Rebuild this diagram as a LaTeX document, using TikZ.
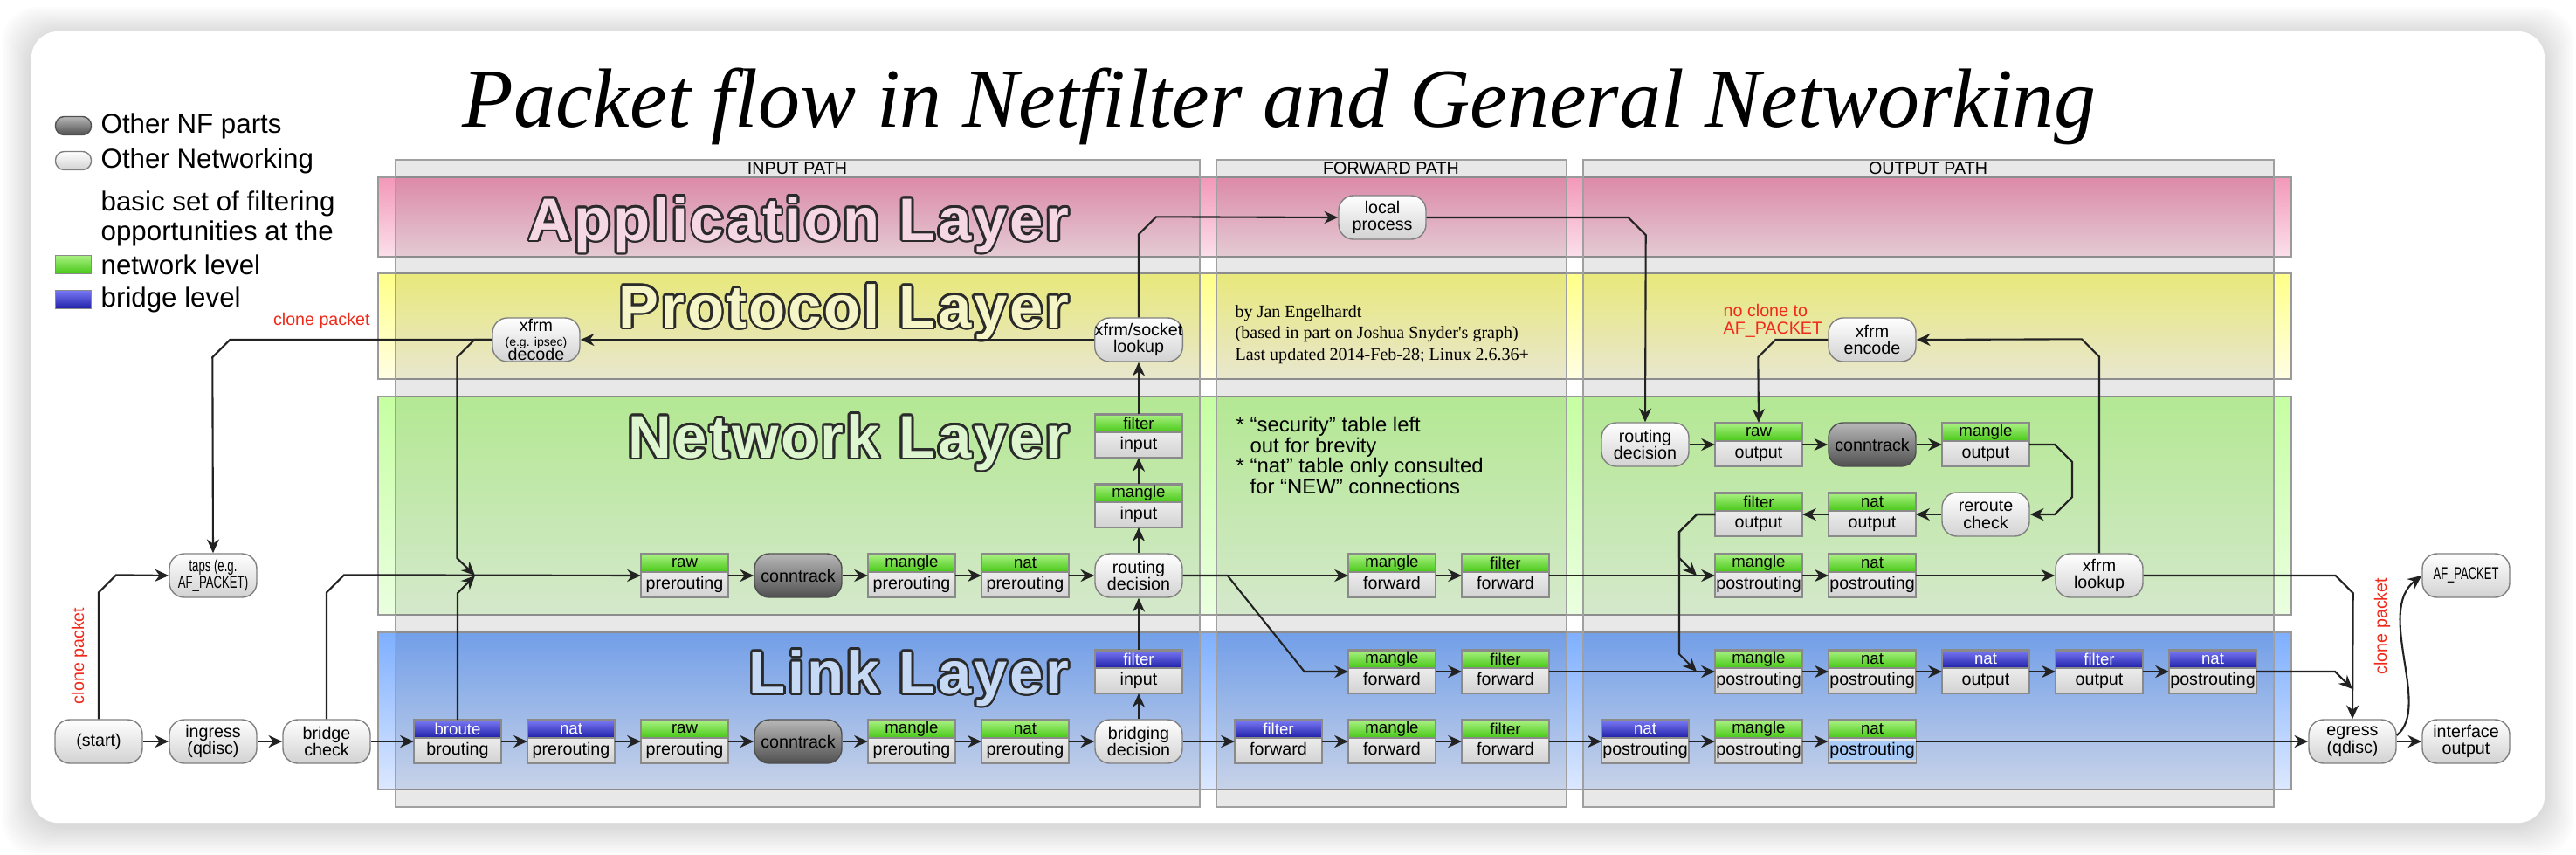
\documentclass[tikz,border=0pt]{standalone}
\usepackage{fontspec}
\setmainfont{Liberation Sans}
\newfontfamily\serifft{Liberation Serif}
\newfontfamily\layerfont[LetterSpace=4]{Liberation Sans}
\usepackage{tikz}
\usetikzlibrary{arrows.meta}

\definecolor{linec}{HTML}{222222}
\definecolor{pillline}{HTML}{808080}
\definecolor{pillbot}{HTML}{D2D2D2}
\definecolor{dptop}{HTML}{B8B8B8}
\definecolor{dpbot}{HTML}{505050}
\definecolor{dpline}{HTML}{505050}
\definecolor{tabline}{HTML}{8A8A8A}
\definecolor{hgtop}{HTML}{A8F080}
\definecolor{hgbot}{HTML}{48C818}
\definecolor{hbtop}{HTML}{7878F4}
\definecolor{hbbot}{HTML}{2020A8}
\definecolor{apptop}{HTML}{F398B8}
\definecolor{appbot}{HTML}{FBE0EA}
\definecolor{prottop}{HTML}{FFFF88}
\definecolor{protbot}{HTML}{FFFEE4}
\definecolor{nettop}{HTML}{C6FFA2}
\definecolor{netbot}{HTML}{EAFFE0}
\definecolor{linktop}{HTML}{7EAFFF}
\definecolor{linkbot}{HTML}{DCE8FF}
\definecolor{bandline}{HTML}{9A9A9A}
\definecolor{panelline}{HTML}{A0A0A0}
\definecolor{cred}{HTML}{F02A1A}
\definecolor{ltline}{HTML}{2A2A2A}
\definecolor{appfg}{HTML}{F6D8E5}
\definecolor{protfg}{HTML}{F5F5C8}
\definecolor{netfg}{HTML}{DDF6CF}
\definecolor{linkfg}{HTML}{C6DAF6}
\definecolor{selbg}{HTML}{A9CBF7}

\newcommand{\boxfont}{\fontsize{5.6}{5.6}\selectfont}
\newcommand{\hdrfont}{\fontsize{5.3}{5.3}\selectfont}
\newcommand{\legfont}{\fontsize{8.9}{9.7}\selectfont}
% outlined layer title: dark copies round a light one
\newcommand{\layertitle}[4]{%
  \foreach \a in {0,22.5,...,337.5}
    \node[ltitle, text=ltline, shift={(\a:0.75pt)}] at (#2) {#4};
  \node[ltitle, text=#3] (#1) at (#2) {#4};
}

\begin{document}
\begin{tikzpicture}[
  %--- shared node styles -----------------------------------------
  pill/.style={
    draw=pillline, rounded corners=0.17cm,
    top color=white, bottom color=pillbot,
    minimum width=1cm, minimum height=0.5cm,
    inner sep=0pt, align=center, font=\boxfont
  },
  dpill/.style={pill, draw=dpline, top color=dptop, bottom color=dpbot},
  tab/.style={
    draw=tabline, line width=0.5pt,
    top color=white, bottom color=pillbot,
    minimum width=1cm, inner xsep=0pt, inner ysep=0pt,
    text height=0.4cm, text depth=0.1cm, outer sep=0pt,
    font=\boxfont
  },
  ghd/.style={
    anchor=north, draw=tabline, line width=0.5pt,
    top color=hgtop, bottom color=hgbot,
    minimum width=1cm, minimum height=0.2cm,
    inner sep=0pt, font=\hdrfont
  },
  bhd/.style={ghd, top color=hbtop, bottom color=hbbot, text=white},
  gtab/.style={tab, label={[ghd]north:#1}},
  btab/.style={tab, label={[bhd]north:#1}},
  ltitle/.style={anchor=base east, inner sep=0pt,
    font=\layerfont\bfseries\fontsize{19.6}{19.6}\selectfont},
  legtxt/.style={anchor=west, align=left, inner sep=0pt, font=\legfont},
  pathlbl/.style={inner sep=0pt, font=\boxfont},
  redtxt/.style={text=cred, font=\boxfont},
  band/.style={draw=bandline, line width=0.5pt},
  panel/.style={fill=black, fill opacity=0.09, draw=panelline, line width=0.6pt},
  arr/.style={-{Stealth[length=4.5pt, width=4pt]}, line width=0.6pt, draw=linec},
]
\useasboundingbox (0,0) rectangle (29.5,-9.78);

%% --- card with soft shadow ---------------------------------------
\foreach \i in {1,...,12}
  \fill[black, opacity=0.012, rounded corners=0.4cm]
    ({0.36-0.028*\i},{-0.39+0.026*\i}) rectangle ({29.14+0.028*\i},{-9.46-0.028*\i});
\fill[white, rounded corners=0.3cm] (0.36,-0.36) rectangle (29.14,-9.42);

%% --- layer bands ---------------------------------------------------
\shadedraw[band, top color=apptop, bottom color=appbot] (4.33,-2.03) rectangle (26.24,-2.94);
\shadedraw[band, top color=prottop, bottom color=protbot] (4.33,-3.13) rectangle (26.24,-4.34);
\shadedraw[band, top color=nettop, bottom color=netbot] (4.33,-4.54) rectangle (26.24,-7.04);
\shadedraw[band, top color=linktop, bottom color=linkbot] (4.33,-7.24) rectangle (26.24,-9.04);

%% --- path panels ---------------------------------------------------
\filldraw[panel] (4.53,-1.83) rectangle (13.74,-9.24);
\filldraw[panel] (13.93,-1.83) rectangle (17.94,-9.24);
\filldraw[panel] (18.13,-1.83) rectangle (26.04,-9.24);
\node[pathlbl] (inlbl) at (9.13,-1.93) {INPUT PATH};
\node[pathlbl] (fwlbl) at (15.93,-1.93) {FORWARD PATH};
\node[pathlbl] (outlbl) at (22.08,-1.93) {OUTPUT PATH};

%% --- layer titles --------------------------------------------------
\layertitle{applt}{12.25,-2.75}{appfg}{Application Layer}
\layertitle{protlt}{12.25,-3.75}{protfg}{Protocol Layer}
\layertitle{netlt}{12.25,-5.24}{netfg}{Network Layer}
\layertitle{linklt}{12.25,-7.94}{linkfg}{Link Layer}

%% --- title, legend, notes -----------------------------------------
\node[anchor=base, inner sep=0pt, font=\serifft\itshape\fontsize{27.3}{30}\selectfont]
  (title) at (14.65,-1.45) {Packet flow in Netfilter and General Networking};

\node[dpill, minimum width=0.41cm, minimum height=0.21cm, rounded corners=0.1cm] (lgnf) at (0.84,-1.44) {};
\node[legtxt] (lgnftxt) at (1.15,-1.44) {Other NF parts};
\node[pill, minimum width=0.41cm, minimum height=0.21cm, rounded corners=0.1cm] (lgnet) at (0.84,-1.84) {};
\node[legtxt] (lgnettxt) at (1.15,-1.84) {Other Networking};
\node[legtxt] (lgbasic) at (1.15,-2.50) {basic set of filtering\\opportunities at the};
\node[draw=tabline, top color=hgtop, bottom color=hgbot, minimum width=0.41cm,
  minimum height=0.21cm, inner sep=0pt] (lggreen) at (0.84,-3.03) {};
\node[legtxt] (lggreentxt) at (1.15,-3.03) {network level};
\node[draw=tabline, top color=hbtop, bottom color=hbbot, minimum width=0.41cm,
  minimum height=0.21cm, inner sep=0pt] (lgblue) at (0.84,-3.43) {};
\node[legtxt] (lgbluetxt) at (1.15,-3.43) {bridge level};

\node[anchor=west, align=left, inner sep=0pt, font=\serifft\fontsize{5.7}{7}\selectfont]
  (credit) at (14.14,-3.83)
  {by Jan Engelhardt\\(based in part on Joshua Snyder's graph)\\Last updated 2014-Feb-28; Linux 2.6.36+};
\node[anchor=west, align=left, inner sep=0pt, font=\fontsize{6.8}{6.7}\selectfont]
  (notes) at (14.15,-5.215)
  {* “security” table left\\\phantom{* }out for brevity\\* “nat” table only consulted\\\phantom{* }for “NEW” connections};
\node[redtxt, anchor=west, align=left, inner sep=0pt] (noclone) at (19.73,-3.67) {no clone to\\AF\_PACKET};
\node[redtxt, rotate=90] (clone2) at (27.28,-7.17) {clone packet};

%% --- ROW link (y=-8.49) ---------------------------------------------
\node[pill] (start) at (1.13,-8.49) {(start)};
\node[pill] (ingr) at (2.44,-8.49) {ingress\\(qdisc)};
\node[pill] (bchk) at (3.74,-8.49) {bridge\\check};
\node[btab=broute] (brt) at (5.24,-8.49) {brouting};
\node[btab=nat] (lnatpre) at (6.54,-8.49) {prerouting};
\node[gtab=raw] (lrawpre) at (7.84,-8.49) {prerouting};
\node[dpill] (lct) at (9.14,-8.49) {conntrack};
\node[gtab=mangle] (lmglpre) at (10.44,-8.49) {prerouting};
\node[gtab=nat] (lnatpre2) at (11.74,-8.49) {prerouting};
\node[pill] (brdec) at (13.04,-8.49) {bridging\\decision};
\node[btab=filter] (lfltfwd) at (14.64,-8.49) {forward};
\node[gtab=mangle] (lmglfwd) at (15.94,-8.49) {forward};
\node[gtab=filter] (lfltfwd2) at (17.24,-8.49) {forward};
\node[btab=nat] (lnatpost) at (18.84,-8.49) {postrouting};
\node[gtab=mangle] (lmglpost) at (20.14,-8.49) {postrouting};
\node[gtab=nat] (lnatpost2) at (21.44,-8.49) {{\fboxsep=0.5pt\colorbox{selbg}{postrouting}}};
\node[pill] (egress) at (26.94,-8.49) {egress\\(qdisc)};
\node[pill] (ifout) at (28.24,-8.49) {interface\\output};

%% --- ROW link, upper (y=-7.69) -------------------------------------
\node[btab=filter] (brfltin) at (13.04,-7.69) {input};
\node[gtab=mangle] (bmglfwd) at (15.94,-7.69) {forward};
\node[gtab=filter] (bfltfwd) at (17.24,-7.69) {forward};
\node[gtab=mangle] (bmglpost) at (20.14,-7.69) {postrouting};
\node[gtab=nat] (bnatpost) at (21.44,-7.69) {postrouting};
\node[btab=nat] (bnatout) at (22.74,-7.69) {output};
\node[btab=filter] (bfltout) at (24.04,-7.69) {output};
\node[btab=nat] (bnatpost2) at (25.34,-7.69) {postrouting};

%% --- ROW network (y=-6.59) ------------------------------------------
\node[pill] (taps) at (2.44,-6.59)
  {\scalebox{0.67}[1]{taps (e.g.}\\\scalebox{0.67}[1]{AF\_PACKET)}};
\node[gtab=raw] (rawpre) at (7.84,-6.59) {prerouting};
\node[dpill] (ct) at (9.14,-6.59) {conntrack};
\node[gtab=mangle] (mglpre) at (10.44,-6.59) {prerouting};
\node[gtab=nat] (natpre) at (11.74,-6.59) {prerouting};
\node[pill] (rtdec) at (13.04,-6.59) {routing\\decision};
\node[gtab=mangle] (mglfwd) at (15.94,-6.59) {forward};
\node[gtab=filter] (fltfwd) at (17.24,-6.59) {forward};
\node[gtab=mangle] (mglpost) at (20.14,-6.59) {postrouting};
\node[gtab=nat] (natpost) at (21.44,-6.59) {postrouting};
\node[pill] (xfrmlk) at (24.04,-6.59) {xfrm\\lookup};
\node[pill] (afpkt) at (28.24,-6.59) {\scalebox{0.66}[1]{AF\_PACKET}};

%% --- input chain upwards, output rows --------------------------------
\node[gtab=mangle] (mglin) at (13.04,-5.79) {input};
\node[gtab=filter] (fltin) at (13.04,-4.99) {input};
\node[gtab=filter] (fltout) at (20.14,-5.89) {output};
\node[gtab=nat] (natout) at (21.44,-5.89) {output};
\node[pill] (reroute) at (22.74,-5.89) {reroute\\check};
\node[pill] (ortdec) at (18.84,-5.09) {routing\\decision};
\node[gtab=raw] (rawout) at (20.14,-5.09) {output};
\node[dpill] (oct) at (21.44,-5.09) {conntrack};
\node[gtab=mangle] (mglout) at (22.74,-5.09) {output};

%% --- protocol and application layer ---------------------------------
\node[pill] (dec) at (6.14,-3.89)
  {xfrm\\[-1pt]{\fontsize{4}{4}\selectfont (e.g. ipsec)}\\[-1pt]decode};
\node[pill] (xsl) at (13.04,-3.89) {xfrm/socket\\lookup};
\node[pill] (enc) at (21.44,-3.89) {xfrm\\encode};
\node[pill] (lproc) at (15.83,-2.49) {local\\process};

\coordinate (mrg) at (5.44,-6.59);
\coordinate (mpin) at (19.43,-6.59);
\coordinate (bmpin) at (19.43,-7.69);
\coordinate (egin) at (26.94,-7.89);

%% --- arrows -----------------------------------------------------------
% ingress side
\draw[arr] (start.east) -- (ingr.west);
\draw[arr] (ingr.east) -- (bchk.west);
\draw[arr] (bchk.east) -- (brt.west);
\draw[arr] (start.north) -- ++(0,1.45)
  node[midway, sloped, above, redtxt]{clone packet}
  -- ++(0.2,0.2) -- (taps.west);
\draw[arr] (bchk.north) -- ++(0,1.45) -- ++(0.2,0.2) -- (rawpre.west);
\draw[arr] (brt.north) -- ++(0,1.45) -- (mrg);
% decode -> merge and taps
\draw[arr] (dec.west) -- ++(-0.2,0) -- ++(-0.2,-0.2) -- ++(0,-2.3) -- (mrg);
\draw[arr] (dec.west) -- ++(-3.0,0)
  node[pos=0.65, above, redtxt]{clone packet}
  -- ++(-0.2,-0.2) -- (taps.north);
% link layer, bottom row
\draw[arr] (brt.east) -- (lnatpre.west);
\draw[arr] (lnatpre.east) -- (lrawpre.west);
\draw[arr] (lrawpre.east) -- (lct.west);
\draw[arr] (lct.east) -- (lmglpre.west);
\draw[arr] (lmglpre.east) -- (lnatpre2.west);
\draw[arr] (lnatpre2.east) -- (brdec.west);
\draw[arr] (brdec.east) -- (lfltfwd.west);
\draw[arr] (lfltfwd.east) -- (lmglfwd.west);
\draw[arr] (lmglfwd.east) -- (lfltfwd2.west);
\draw[arr] (lfltfwd2.east) -- (lnatpost.west);
\draw[arr] (lnatpost.east) -- (lmglpost.west);
\draw[arr] (lmglpost.east) -- (lnatpost2.west);
\draw[arr] (lnatpost2.east) -- (egress.west);
\draw[arr] (egress.east) -- (ifout.west);
\draw[arr] ([yshift=0.07cm]egress.east) .. controls (27.85,-8.1) and (27.2,-7.0) .. (afpkt.west);
% network layer, prerouting
\draw[arr] (rawpre.east) -- (ct.west);
\draw[arr] (ct.east) -- (mglpre.west);
\draw[arr] (mglpre.east) -- (natpre.west);
\draw[arr] (natpre.east) -- (rtdec.west);
% input path upwards
\draw[arr] (brdec.north) -- (brfltin.south);
\draw[arr] (brfltin.north) -- (rtdec.south);
\draw[arr] (rtdec.north) -- (mglin.south);
\draw[arr] (mglin.north) -- (fltin.south);
\draw[arr] (fltin.north) -- (xsl.south);
\draw[arr] (xsl.west) -- (dec.east);
\draw[arr] (xsl.north) -- ++(0,0.95) -- ++(0.2,0.2) -- (lproc.west);
\draw[arr] (lproc.east) -- ++(2.31,0) -- ++(0.2,-0.2) -- (ortdec.north);
% forward path
\draw[arr] (rtdec.east) -- (mglfwd.west);
\draw[arr] (rtdec.east) -- ++(0.51,0) -- ++(0.88,-1.1) -- (bmglfwd.west);
\draw[arr] (mglfwd.east) -- (fltfwd.west);
\draw[arr] (fltfwd.east) -- (mglpost.west);
\draw[arr] (bmglfwd.east) -- (bfltfwd.west);
\draw[arr] (bfltfwd.east) -- (bmglpost.west);
% output path
\draw[arr] (ortdec.east) -- (rawout.west);
\draw[arr] (rawout.east) -- (oct.west);
\draw[arr] (oct.east) -- (mglout.west);
\draw[arr] (mglout.east) -- ++(0.29,0) -- ++(0.2,-0.2) -- ++(0,-0.4)
  -- ++(-0.2,-0.2) -- (reroute.east);
\draw[arr] (reroute.west) -- (natout.east);
\draw[arr] (natout.west) -- (fltout.east);
\draw[arr] (fltout.west) -- ++(-0.21,0) -- ++(-0.2,-0.2) -- ++(0,-0.3) -- (mpin);
\draw[arr] (fltout.west) -- ++(-0.21,0) -- ++(-0.2,-0.2) -- ++(0,-1.4) -- (bmpin);
\draw[arr] (mglpost.east) -- (natpost.west);
\draw[arr] (natpost.east) -- (xfrmlk.west);
\draw[arr] (xfrmlk.north) -- ++(0,2.25) -- ++(-0.2,0.2) -- (enc.east);
\draw[arr] (enc.west) -- ++(-0.6,0) -- ++(-0.2,-0.2) -- (rawout.north);
\draw[arr] (xfrmlk.east) -- ++(2.2,0) -- ++(0.2,-0.2) -- (egress.north);
% output path, link layer
\draw[arr] (bmglpost.east) -- (bnatpost.west);
\draw[arr] (bnatpost.east) -- (bnatout.west);
\draw[arr] (bnatout.east) -- (bfltout.west);
\draw[arr] (bfltout.east) -- (bnatpost2.west);
\draw[arr] (bnatpost2.east) -- ++(0.9,0) -- (egin);

\end{tikzpicture}
\end{document}
